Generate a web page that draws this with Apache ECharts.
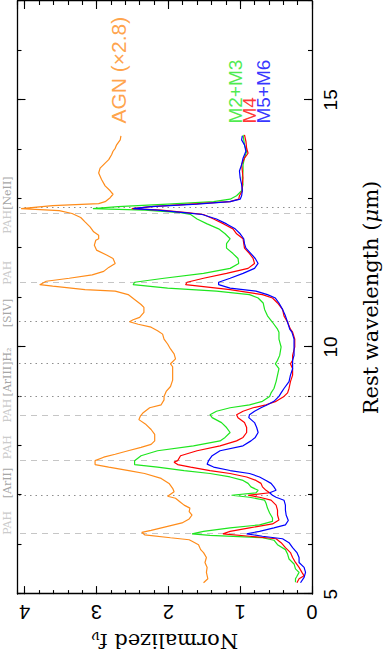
<!DOCTYPE html>
<html>
<head>
<meta charset="utf-8">
<title>Normalized mid-IR spectra</title>
<script src="https://cdn.jsdelivr.net/npm/echarts@6.0.0/dist/echarts.min.js"></script>
<style>
html, body { margin: 0; padding: 0; background: #fff; overflow: hidden; }
#page { position: absolute; left: 0; top: 0; width: 386px; height: 659px; overflow: hidden; }
/* the figure is drawn landscape and turned a quarter turn, like the original page */
#chart {
  position: absolute; left: 0; top: 0; width: 659px; height: 386px;
  transform-origin: 0 0; transform: translateY(659px) rotate(-90deg);
}
</style>
</head>
<body>
<div id="page"><div id="chart"></div></div>
<script>
// [rest wavelength (um), normalized f_nu]
var agn = [
  [5.23,1.51],[5.31,1.45],[5.44,1.47],[5.54,1.46],[5.64,1.49],[5.74,1.47],[5.84,1.51],[5.90,1.55],
  [6.00,1.58],[6.07,1.67],[6.10,1.71],[6.14,1.97],[6.20,2.33],[6.25,2.37],[6.29,2.24],[6.37,2.01],
  [6.44,1.81],[6.52,1.71],[6.60,1.67],[6.67,1.71],[6.74,1.70],[6.80,1.78],[6.87,1.84],[6.94,1.90],
  [6.98,2.01],[7.02,1.97],[7.07,1.92],[7.14,1.94],[7.24,1.99],[7.34,2.10],[7.44,2.33],[7.50,2.55],
  [7.57,2.83],[7.62,3.02],[7.70,3.02],[7.77,2.90],[7.83,2.74],[7.90,2.56],[7.97,2.38],[8.03,2.24],
  [8.10,2.19],[8.23,2.19],[8.33,2.24],[8.43,2.31],[8.53,2.41],[8.60,2.39],[8.67,2.35],[8.77,2.26],
  [8.83,2.10],[8.93,2.06],[9.00,2.06],[9.10,2.03],[9.20,1.97],[9.33,1.94],[9.46,1.94],[9.60,1.94],
  [9.66,1.97],[9.76,1.90],[9.86,1.92],[9.96,1.97],[10.06,2.01],[10.16,2.06],[10.26,2.08],[10.33,2.15],
  [10.40,2.24],[10.46,2.42],[10.51,2.54],[10.55,2.49],[10.60,2.40],[10.70,2.34],[10.80,2.34],[10.86,2.38],
  [10.96,2.47],[11.06,2.56],[11.13,2.74],[11.16,3.16],[11.23,3.61],[11.26,3.79],[11.33,3.70],[11.39,3.38],
  [11.46,3.06],[11.53,2.90],[11.61,2.83],[11.69,2.74],[11.79,2.77],[11.86,2.86],[11.96,3.00],[12.06,3.03],
  [12.16,3.01],[12.19,2.97],[12.26,2.97],[12.33,3.04],[12.43,3.09],[12.53,3.16],[12.62,3.22],[12.70,3.34],
  [12.76,3.52],[12.80,4.05],[12.86,3.61],[12.90,2.97],[12.94,2.88],[13.02,2.81],[13.09,2.77],[13.16,2.81],
  [13.26,2.88],[13.39,2.93],[13.52,2.97],[13.62,2.95],[13.72,2.88],[13.79,2.83],[13.89,2.79],[13.96,2.77],
  [14.02,2.74],[14.09,2.72],[14.19,2.67],[14.27,2.66]
]
var m23 = [
  [5.24,0.23],[5.31,0.23],[5.36,0.21],[5.44,0.18],[5.51,0.23],[5.61,0.25],[5.71,0.32],[5.81,0.34],
  [5.90,0.37],[6.00,0.48],[6.09,0.53],[6.14,0.69],[6.19,1.42],[6.22,1.67],[6.27,1.51],[6.34,1.14],
  [6.40,0.73],[6.47,0.55],[6.54,0.55],[6.64,0.59],[6.74,0.62],[6.84,0.64],[6.90,0.66],[6.96,0.87],
  [7.00,1.12],[7.05,0.78],[7.10,0.75],[7.17,0.85],[7.24,0.89],[7.30,0.96],[7.37,1.14],[7.44,1.42],
  [7.50,1.78],[7.57,2.15],[7.62,2.47],[7.70,2.47],[7.80,2.38],[7.90,2.15],[8.00,1.65],[8.10,1.28],
  [8.17,1.21],[8.27,1.14],[8.37,1.19],[8.47,1.26],[8.57,1.39],[8.63,1.42],[8.70,1.33],[8.77,1.14],
  [8.83,0.87],[8.90,0.69],[9.00,0.59],[9.07,0.57],[9.16,0.53],[9.30,0.50],[9.43,0.48],[9.56,0.46],
  [9.66,0.51],[9.73,0.48],[9.83,0.45],[10.00,0.43],[10.16,0.46],[10.30,0.46],[10.36,0.48],[10.50,0.55],
  [10.63,0.62],[10.76,0.66],[10.89,0.68],[10.99,0.75],[11.06,0.87],[11.13,1.33],[11.19,2.01],[11.26,2.49],
  [11.31,2.47],[11.39,2.06],[11.49,1.51],[11.59,1.14],[11.69,1.02],[11.79,1.03],[11.89,1.10],[12.00,1.19],
  [12.09,1.19],[12.19,1.14],[12.29,1.21],[12.39,1.30],[12.49,1.46],[12.59,1.60],[12.68,1.69],[12.72,1.83],
  [12.77,2.33],[12.80,3.05],[12.84,2.70],[12.89,2.01],[12.94,1.37],[12.99,1.14],[13.06,1.05],[13.16,0.98],
  [13.29,0.96],[13.42,0.97],[13.56,0.96],[13.69,0.96],[13.82,0.94],[13.96,0.91],[14.09,0.94],[14.19,0.95],
  [14.29,0.96]
]
var m4 = [
  [5.23,0.21],[5.31,0.18],[5.37,0.11],[5.44,0.14],[5.54,0.18],[5.64,0.23],[5.74,0.27],[5.84,0.30],
  [5.94,0.37],[6.04,0.43],[6.12,0.50],[6.17,0.87],[6.22,1.24],[6.27,1.14],[6.34,0.87],[6.42,0.55],
  [6.50,0.46],[6.60,0.48],[6.70,0.48],[6.80,0.50],[6.90,0.57],[6.96,0.73],[7.00,0.89],[7.05,0.59],
  [7.10,0.64],[7.17,0.69],[7.24,0.71],[7.30,0.78],[7.37,0.91],[7.44,1.14],[7.50,1.42],[7.57,1.69],
  [7.62,1.87],[7.67,1.92],[7.70,1.87],[7.80,1.83],[7.90,1.60],[8.00,1.28],[8.10,1.05],[8.17,0.96],
  [8.27,0.91],[8.37,0.91],[8.47,0.94],[8.57,1.03],[8.63,1.05],[8.70,0.96],[8.77,0.82],[8.83,0.64],
  [8.90,0.50],[9.00,0.39],[9.07,0.34],[9.16,0.32],[9.30,0.30],[9.43,0.27],[9.56,0.27],[9.66,0.30],
  [9.73,0.27],[9.83,0.27],[10.00,0.24],[10.16,0.24],[10.30,0.27],[10.36,0.30],[10.50,0.34],[10.63,0.39],
  [10.76,0.41],[10.89,0.48],[10.99,0.55],[11.06,0.69],[11.16,1.14],[11.26,1.76],[11.31,1.74],[11.39,1.51],
  [11.49,1.19],[11.59,0.89],[11.69,0.80],[11.79,0.82],[11.89,0.87],[12.00,0.94],[12.09,0.95],[12.19,0.96],
  [12.29,1.05],[12.39,1.10],[12.49,1.23],[12.59,1.37],[12.68,1.51],[12.72,1.74],[12.77,2.10],[12.80,2.51],
  [12.84,2.24],[12.89,1.69],[12.94,1.14],[12.99,1.02],[13.06,1.01],[13.16,0.97],[13.29,0.97],[13.42,0.96],
  [13.56,0.97],[13.69,0.98],[13.82,0.94],[13.92,0.89],[14.02,0.91],[14.16,0.92],[14.29,0.94]
]
var m56 = [
  [5.23,0.16],[5.34,0.11],[5.44,0.09],[5.54,0.11],[5.64,0.18],[5.74,0.18],[5.84,0.21],[5.94,0.27],
  [6.04,0.32],[6.12,0.41],[6.17,0.69],[6.22,0.91],[6.27,0.73],[6.34,0.53],[6.40,0.37],[6.49,0.33],
  [6.60,0.36],[6.70,0.37],[6.80,0.37],[6.90,0.39],[6.96,0.50],[7.00,0.55],[7.05,0.59],[7.10,0.50],
  [7.17,0.53],[7.24,0.57],[7.30,0.64],[7.37,0.73],[7.44,0.87],[7.50,1.14],[7.57,1.37],[7.63,1.46],
  [7.70,1.44],[7.80,1.39],[7.90,1.28],[8.00,0.96],[8.10,0.85],[8.17,0.79],[8.27,0.75],[8.37,0.77],
  [8.47,0.80],[8.57,0.88],[8.63,0.87],[8.70,0.80],[8.77,0.71],[8.83,0.62],[8.90,0.53],[9.00,0.46],
  [9.07,0.43],[9.16,0.39],[9.30,0.32],[9.43,0.30],[9.56,0.27],[9.66,0.27],[9.73,0.27],[9.83,0.25],
  [10.00,0.25],[10.16,0.25],[10.30,0.28],[10.36,0.31],[10.50,0.34],[10.63,0.37],[10.76,0.41],[10.89,0.46],
  [10.99,0.51],[11.06,0.62],[11.13,0.78],[11.19,1.14],[11.26,1.30],[11.31,1.30],[11.39,1.14],[11.49,0.96],
  [11.59,0.80],[11.69,0.75],[11.79,0.79],[11.89,0.85],[12.00,0.92],[12.09,0.94],[12.19,0.95],[12.29,1.00],
  [12.39,1.07],[12.49,1.19],[12.59,1.33],[12.68,1.53],[12.72,1.78],[12.77,2.15],[12.80,2.49],[12.84,2.24],
  [12.89,1.60],[12.94,1.14],[12.99,1.00],[13.06,0.98],[13.16,0.97],[13.29,0.98],[13.42,1.00],[13.56,1.01],
  [13.69,0.98],[13.82,0.96],[13.96,0.92],[14.09,0.94],[14.19,0.98],[14.27,0.97]
]

// feature positions (um): PAH bands dashed, fine-structure / H2 lines dotted
var pahLines = [6.22, 7.7, 8.6, 11.3, 12.7]
var ionLines = [6.99, 8.99, 9.66, 10.51, 12.81]

// feature names along the top edge, starting at these wavelengths
var featureTexts = ['{p|PAH}', '{i|[ArII]}', '{p|PAH}', '{p|PAH}', '{i|[ArIII]H₂}', '{i|[SIV]}', '{p|PAH}', '{p|PAH}{i|[NeII]}']
var featureWaves = [6.2, 6.94, 7.73, 8.47, 9.0, 10.4, 11.26, 12.29]

// curve names written inside the plot
var curveNames = ['AGN (×2.8)', 'M2+M3', 'M4', 'M5+M6']
var curveColors = ['#ff8c1a', '#1ee61e', '#ff0000', '#0000ff']
var nameWave = 14.52
var nameFlux = [2.70, 1.06, 0.87, 0.68]

var waveMin = 5, waveMax = 17
var fluxMin = 0, fluxMax = 4.1

var myChart = echarts.init(document.getElementById('chart'), null, { renderer: 'svg' })

var frameLine = { show: true, onZero: false, lineStyle: { color: '#000', width: 1.3 } }
var noLine = { show: false, onZero: false }

function tick(len) {
  return { show: true, inside: true, length: len, lineStyle: { color: '#000', width: 1.1 } }
}

// one axis for the long ticks, one for the short ones, on each side
function waveAxis(position, interval, len, withLine) {
  return {
    type: 'value', position: position, min: waveMin, max: waveMax, interval: interval,
    axisLine: withLine ? frameLine : noLine, axisTick: tick(len),
    axisLabel: { show: false }, splitLine: { show: false }
  }
}
function fluxAxis(position, interval, len, withLine) {
  return {
    type: 'value', position: position, min: fluxMin, max: fluxMax, interval: interval,
    axisLine: withLine ? frameLine : noLine, axisTick: tick(len),
    axisLabel: { show: false }, splitLine: { show: false }
  }
}

var xBottom = waveAxis('bottom', 5, 8, true)
xBottom.axisLabel = {
  show: true, showMaxLabel: false, margin: 9, fontSize: 19,
  fontFamily: 'Liberation Sans', color: '#000'
}
xBottom.name = 'Rest wavelength ({mu|μ}m)'
xBottom.nameLocation = 'middle'
xBottom.nameGap = 48
xBottom.nameTextStyle = {
  fontFamily: 'DejaVu Serif', fontSize: 21, color: '#000',
  rich: { mu: { fontFamily: 'DejaVu Serif', fontSize: 21, fontStyle: 'italic', color: '#000' } }
}

var yLeft = fluxAxis('left', 1, 8, true)
yLeft.axisLabel = {
  show: true, showMaxLabel: false, rotate: 90, margin: 8, fontSize: 20,
  fontFamily: 'Liberation Sans', color: '#000'
}
yLeft.name = 'Normalized f{sub|ν}'
yLeft.nameLocation = 'middle'
yLeft.nameRotate = 90
yLeft.nameGap = 33
yLeft.nameTextStyle = {
  fontFamily: 'DejaVu Serif', fontSize: 21, color: '#000',
  rich: { sub: { fontFamily: 'DejaVu Serif', fontSize: 14, verticalAlign: 'bottom', color: '#000' } }
}

function spectrum(name, data, color) {
  return {
    name: name, type: 'line', data: data, showSymbol: false, symbol: 'none',
    lineStyle: { color: color, width: 1.2 }, itemStyle: { color: color }, z: 3
  }
}

var featureMarks = pahLines.map(function (v) {
  return { xAxis: v, lineStyle: { type: [6, 5], color: '#c6c6c6', width: 1.2 } }
}).concat(ionLines.map(function (v) {
  return { xAxis: v, lineStyle: { type: [1.5, 4], color: '#8e8e8e', width: 1.2 } }
}))

var option = {
  animation: false,
  backgroundColor: '#fff',
  grid: { left: 57, right: 1, top: 17.5, bottom: 69.3 },
  xAxis: [
    xBottom,
    waveAxis('bottom', 1, 4, false),
    waveAxis('top', 5, 8, true),
    waveAxis('top', 1, 4, false)
  ],
  yAxis: [
    yLeft,
    fluxAxis('left', 0.2, 4, false),
    fluxAxis('right', 1, 8, true),
    fluxAxis('right', 0.2, 4, false)
  ],
  series: [
    {
      name: 'features', type: 'line', data: [], silent: true,
      markLine: {
        silent: true, z: 1, symbol: ['none', 'none'], label: { show: false },
        data: featureMarks
      }
    },
    spectrum('AGN', agn, curveColors[0]),
    spectrum('M2+M3', m23, curveColors[1]),
    spectrum('M4', m4, curveColors[2]),
    spectrum('M5+M6', m56, curveColors[3]),
    {
      name: 'feature names', type: 'scatter', clip: false, silent: true,
      symbolSize: 0, itemStyle: { color: 'transparent' },
      data: featureWaves.map(function (w, i) {
        return { value: [w, fluxMax], label: { formatter: featureTexts[i] } }
      }),
      label: {
        show: true, position: 'right', distance: 0, offset: [0, -10],
        fontFamily: 'DejaVu Serif', fontSize: 11,
        rich: {
          p: { fontFamily: 'DejaVu Serif', fontSize: 11, color: '#bdbdbd' },
          i: { fontFamily: 'DejaVu Serif', fontSize: 11, color: '#8e8e8e' }
        }
      },
      z: 4
    },
    {
      name: 'curve names', type: 'scatter', clip: false, silent: true,
      symbolSize: 0, itemStyle: { color: 'transparent' },
      data: curveNames.map(function (n, i) {
        return {
          value: [nameWave, nameFlux[i]],
          label: { formatter: n, color: curveColors[i], fontSize: i === 0 ? 21 : 19 }
        }
      }),
      label: { show: true, position: 'right', distance: 0, fontFamily: 'Liberation Sans' },
      z: 4
    }
  ]
}

myChart.setOption(option)
</script>
</body>
</html>
